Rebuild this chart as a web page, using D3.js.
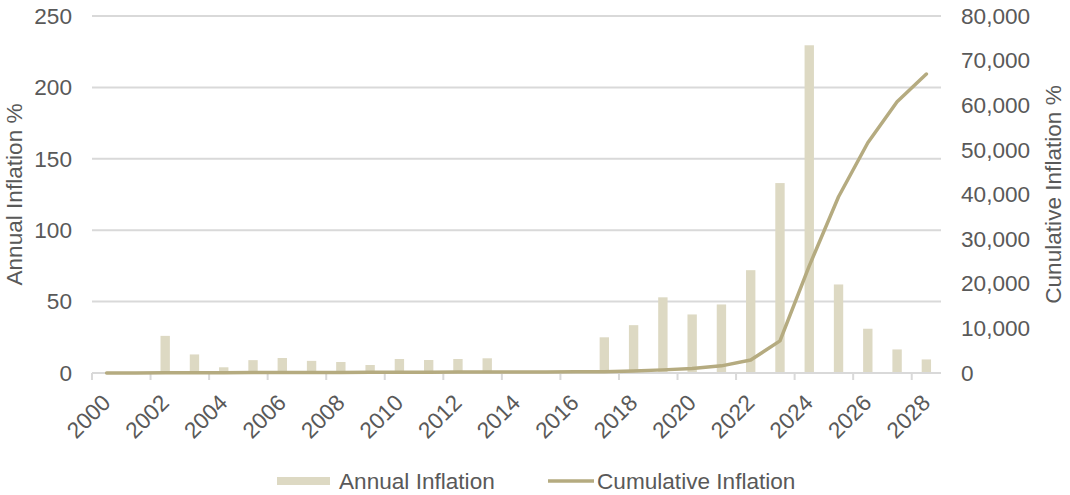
<!DOCTYPE html>
<html>
<head>
<meta charset="utf-8">
<script src="https://cdn.jsdelivr.net/npm/d3@7"></script>
<style>
  body { margin: 0; background: #fff; }
  text { font-family: "Liberation Sans", Arial, sans-serif; fill: #595959; }
</style>
</head>
<body>
<svg id="chart" width="1070" height="495"></svg>
<script>
const years = d3.range(2000, 2029);
// annual inflation % (0 = no visible bar)
const annual = [0, 0, 26, 13, 4, 9, 10.5, 8.5, 7.7, 5.6, 9.8, 9.1, 9.8, 10.3,
  0, 0, 0, 25, 33.5, 53, 41, 48, 72, 133, 229.5, 62, 31, 16.5, 9.5];
// cumulative inflation %
const cumulative = [0, 10, 40, 60, 70, 85, 105, 120, 140, 150, 170, 190, 210, 240,
  250, 250, 260, 300, 450, 700, 1000, 1600, 2900, 7200, 24000, 39500, 51600, 60800, 67000];
const leftTicks = [0, 50, 100, 150, 200, 250];
const rightTicks = [0, 10000, 20000, 30000, 40000, 50000, 60000, 70000, 80000];
const labelYears = years.filter(y => y % 2 === 0);

const svg = d3.select('#chart');
const margin = { top: 16, right: 129, bottom: 122, left: 92 };
const width = 1070, height = 495;
const plotBottom = height - margin.bottom; // 373
const fs = '22.6px';

const x = d3.scaleBand()
  .domain(years)
  .range([margin.left, width - margin.right])
  .padding(0);

const y = d3.scaleLinear().domain([0, 250]).range([plotBottom, margin.top]);
const y2 = d3.scaleLinear().domain([0, 80000]).range([plotBottom, margin.top]);

const barColor = '#ddd9c3';
const lineColor = '#b5ab80';

// gridlines
svg.append('g')
  .selectAll('line')
  .data(leftTicks.slice(1))
  .join('line')
  .attr('x1', margin.left)
  .attr('x2', width - margin.right)
  .attr('y1', d => y(d))
  .attr('y2', d => y(d))
  .attr('stroke', '#d9d9d9')
  .attr('stroke-width', 2);

// left axis labels
const yAxis = d3.axisLeft(y).tickValues(leftTicks).tickSize(0).tickPadding(20);
svg.append('g')
  .attr('transform', `translate(${margin.left},0)`)
  .call(yAxis)
  .call(g => g.select('.domain').remove())
  .selectAll('text')
  .style('font-size', fs)
  .attr('fill', '#595959');

// right axis labels
const yAxis2 = d3.axisRight(y2).tickValues(rightTicks).tickSize(0).tickPadding(20)
  .tickFormat(d3.format(','));
svg.append('g')
  .attr('transform', `translate(${width - margin.right},0)`)
  .call(yAxis2)
  .call(g => g.select('.domain').remove())
  .selectAll('text')
  .style('font-size', fs)
  .attr('fill', '#595959');

// bars
const barW = x.bandwidth() * 0.32;
svg.append('g')
  .selectAll('rect')
  .data(years.map((yr, i) => ({ yr, v: annual[i] })).filter(d => d.v > 0))
  .join('rect')
  .attr('x', d => x(d.yr) + x.bandwidth() / 2 - barW / 2)
  .attr('y', d => y(d.v))
  .attr('width', barW)
  .attr('height', d => y(0) - y(d.v))
  .attr('fill', barColor);

// x axis line + ticks at category boundaries
const xg = svg.append('g');
xg.append('line')
  .attr('x1', margin.left)
  .attr('x2', width - margin.right)
  .attr('y1', plotBottom)
  .attr('y2', plotBottom)
  .attr('stroke', '#d9d9d9')
  .attr('stroke-width', 2);
xg.selectAll('.tick')
  .data(labelYears)
  .join('line')
  .attr('class', 'tick')
  .attr('x1', d => x(d))
  .attr('x2', d => x(d))
  .attr('y1', plotBottom)
  .attr('y2', plotBottom + 7)
  .attr('stroke', '#d9d9d9')
  .attr('stroke-width', 2);
xg.selectAll('text')
  .data(labelYears)
  .join('text')
  .attr('transform', d => `translate(${x(d) + x.bandwidth() / 2 - 6},${plotBottom + 20}) rotate(-45)`)
  .attr('text-anchor', 'end')
  .attr('dy', '0.7em')
  .style('font-size', fs)
  .text(d => d);

// cumulative line
const line = d3.line()
  .x((d, i) => x(years[i]) + x.bandwidth() / 2)
  .y(d => y2(d));
svg.append('path')
  .datum(cumulative)
  .attr('d', line)
  .attr('fill', 'none')
  .attr('stroke', lineColor)
  .attr('stroke-width', 3.5)
  .attr('stroke-linejoin', 'round')
  .attr('stroke-linecap', 'round');

// axis titles
svg.append('text')
  .attr('transform', `translate(22,${(margin.top + plotBottom) / 2}) rotate(-90)`)
  .attr('text-anchor', 'middle')
  .style('font-size', fs)
  .text('Annual Inflation %');
svg.append('text')
  .attr('transform', `translate(1061,${(margin.top + plotBottom) / 2}) rotate(-90)`)
  .attr('text-anchor', 'middle')
  .style('font-size', fs)
  .text('Cunulative Inflation %');

// legend
const legend = svg.append('g').attr('transform', 'translate(0,481)');
legend.append('rect')
  .attr('x', 277).attr('y', -4).attr('width', 53).attr('height', 8)
  .attr('fill', barColor);
legend.append('text')
  .attr('x', 339).attr('dy', '0.35em')
  .style('font-size', fs)
  .text('Annual Inflation');
legend.append('line')
  .attr('x1', 548).attr('x2', 594).attr('y1', 0).attr('y2', 0)
  .attr('stroke', lineColor).attr('stroke-width', 3.5);
legend.append('text')
  .attr('x', 597).attr('dy', '0.35em')
  .style('font-size', fs)
  .text('Cumulative Inflation');
</script>
</body>
</html>
